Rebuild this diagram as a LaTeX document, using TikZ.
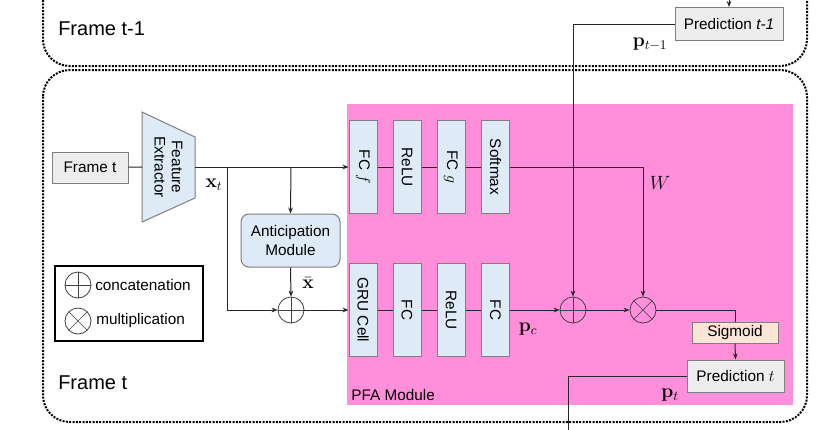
\documentclass[tikz,border=0pt]{standalone}
\usepackage[no-math]{fontspec}
\setmainfont{Liberation Sans}
\usetikzlibrary{arrows.meta,calc}
\definecolor{pfa}{HTML}{FF8FDB}
\definecolor{lblue}{HTML}{DEEBF7}
\definecolor{lgray}{HTML}{EDEDED}
\definecolor{bgray}{HTML}{7F7F7F}
\definecolor{peach}{HTML}{FBE5D6}
\definecolor{linec}{HTML}{262626}
\definecolor{opc}{HTML}{404040}
\tikzset{
  txt/.style={font=\fontsize{11.5}{13}\selectfont},
  mlab/.style={font=\fontsize{14}{16}\selectfont, inner sep=0pt},
  biglab/.style={font=\fontsize{15}{17}\selectfont, inner sep=0pt},
  line/.style={draw=linec, line width=0.75pt},
  arr/.style={line, -{Stealth[length=4.5pt,width=3.5pt]}},
  frm/.style={draw=black, line width=1.5pt, densely dotted, rounded corners=20pt},
  lay/.style={draw=bgray, fill=lblue, line width=0.75pt, minimum width=21pt, minimum height=69.75pt, inner sep=0pt, txt},
  gbox/.style={draw=bgray, fill=lgray, line width=0.75pt, inner sep=0pt, txt},
  op/.style={circle, draw=opc, line width=0.6pt, minimum size=19.5pt, inner sep=0pt},
  oplus/.style={op, path picture={\draw[opc, line width=0.5pt] (path picture bounding box.north) -- (path picture bounding box.south) (path picture bounding box.west) -- (path picture bounding box.east);}},
  otimes/.style={op, path picture={\draw[opc, line width=0.5pt] (path picture bounding box.north west) -- (path picture bounding box.south east) (path picture bounding box.north east) -- (path picture bounding box.south west);}},
}
\begin{document}
\begin{tikzpicture}[x=0.75pt,y=-0.75pt]
\useasboundingbox (0,0) rectangle (830,429);
\clip (0,0) rectangle (830,429);
\fill[white] (0,0) rectangle (830,429);

% frames
\draw[frm] (43,-40) rectangle (807,66);
\draw[frm] (43,70) rectangle (807,422);
\node[biglab, anchor=west] (lab-tm1) at (58,29) {Frame t-1};
\node[biglab, anchor=west] (lab-t) at (58,383) {Frame t};

% PFA module background
\fill[pfa] (347,104) rectangle (793,405);
\node[txt, anchor=west, inner sep=0pt] (pfalab) at (351,395) {PFA Module};

% input and feature extractor
\node[gbox, minimum width=57pt, minimum height=23.25pt] (framet) at (90,167.5) {Frame t};
\draw[draw=bgray, fill=lblue, line width=0.75pt] (142,112) -- (195,137) -- (195,198) -- (142,222) -- cycle;
\node[txt, rotate=-90, align=center, inner sep=0pt] (fe) at (168.5,167) {Feature\\Extractor};
\coordinate (fe-in) at (142,167);
\coordinate (fe-out) at (195,167);
\coordinate (b1) at (227,167);
\coordinate (b2) at (291,167);

% anticipation module
\node[draw=bgray, fill=lblue, line width=0.75pt, rounded corners=6pt, minimum width=74.25pt, minimum height=39.75pt, align=center, font=\fontsize{11.5}{14.5}\selectfont, inner sep=0pt] (antic) at (290.5,240.5) {Anticipation\\Module};

% legend
\node[draw=black, line width=0.9pt, fill=white, minimum width=111pt, minimum height=56.25pt, inner sep=0pt] (legend) at (129,303.5) {};
\node[oplus] (lg1) at (78,285) {};
\node[txt, anchor=west, inner sep=0pt] (lg1t) at (95,285) {concatenation};
\node[otimes] (lg2) at (78,321) {};
\node[txt, anchor=west, inner sep=0pt] (lg2t) at (96,321) {multiplication};

% top row
\node[lay] (fcf) at (363,167) {\rotatebox{-90}{FC $f$}};
\node[lay] (relu1) at (407,167) {\rotatebox{-90}{ReLU}};
\node[lay] (fcg) at (451,167) {\rotatebox{-90}{FC $g$}};
\node[lay] (soft) at (495.5,167) {\rotatebox{-90}{Softmax}};
% bottom row
\node[lay] (gru) at (363,310) {\rotatebox{-90}{GRU Cell}};
\node[lay] (fc1) at (407,310) {\rotatebox{-90}{FC}};
\node[lay] (relu2) at (451,310) {\rotatebox{-90}{ReLU}};
\node[lay] (fc2) at (495.5,310) {\rotatebox{-90}{FC}};

% operators
\node[oplus] (cat1) at (291,310) {};
\node[oplus] (cat2) at (573,310) {};
\node[otimes] (mul) at (643,310) {};

% sigmoid and predictions
\node[draw=bgray, fill=peach, line width=0.75pt, minimum width=64.5pt, minimum height=15.75pt, inner sep=0pt, txt] (sig) at (735,332.5) {Sigmoid};
\node[gbox, minimum width=72.75pt, minimum height=24pt] (predt) at (735.5,376) {Prediction $t$};
\node[gbox, minimum width=81pt, minimum height=24.75pt] (predt1) at (729,24) {Prediction \textit{t-1}};
\coordinate (intop) at (729,-10);
\coordinate (out) at (568,440);

% connectors
\draw[line] (framet) -- (fe-in);
\draw[arr] (fe-out) -- (fcf.west);
\draw[arr] (b1) |- (cat1.west);
\draw[arr] (b2) -- (antic.north);
\draw[arr] (antic.south) -- (cat1.north);
\draw[arr] (cat1.east) -- (gru.west);
\draw[line] (fcf) -- (relu1) (relu1) -- (fcg) (fcg) -- (soft);
\draw[line] (gru) -- (fc1) (fc1) -- (relu2) (relu2) -- (fc2);
\draw[arr] (soft.east) -| (mul.north);
\draw[arr] (fc2.east) -- (cat2.west);
\draw[arr] (cat2.east) -- (mul.west);
\draw[line] (mul.east) -| (sig.north);
\draw[arr] (sig.south) -- (predt.north);
\draw[line] (predt.west) -| (out);
\draw[arr] (intop) -- (predt1.north);
\draw[arr] (predt1.west) -| (cat2.north);

% math labels
\node[mlab] (lxt) at (214,185) {$\mathbf{x}_t$};
\node[mlab] (lxbar) at (308,283) {$\bar{\mathbf{x}}$};
\node[mlab] (lW) at (660,183) {$W$};
\node[mlab] (lpc) at (528,329) {$\mathbf{p}_c$};
\node[mlab] (lpt) at (670,395) {$\mathbf{p}_t$};
\node[mlab] (lpt1) at (650,44) {$\mathbf{p}_{t-1}$};
\end{tikzpicture}
\end{document}
